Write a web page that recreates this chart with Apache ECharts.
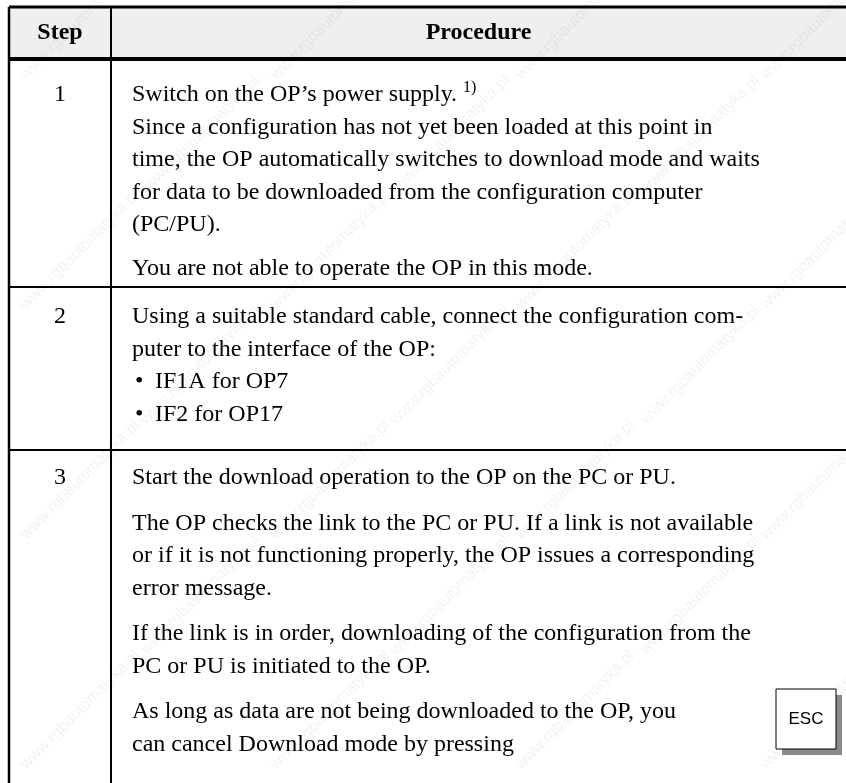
<!DOCTYPE html>
<html>
<head>
<meta charset="utf-8">
<script src="https://cdn.jsdelivr.net/npm/echarts@6/dist/echarts.min.js"></script>
<style>
html,body{margin:0;padding:0;background:#fff;}
#main{width:846px;height:783px;}
</style>
</head>
<body>
<div id="main"></div>
<script>
// ---- content ----
var headers = ['Step', 'Procedure'];
var steps = ['1', '2', '3'];
// each step: list of paragraphs, each paragraph a list of lines
var step1 = [
  ['Switch on the OP\u2019s power supply.',
   'Since a configuration has not yet been loaded at this point in',
   'time, the OP automatically switches to download mode and waits',
   'for data to be downloaded from the configuration computer',
   '(PC/PU).'],
  ['You are not able to operate the OP in this mode.']
];
var step1Footnote = '1)';
var step2 = [
  ['Using a suitable standard cable, connect the configuration com-',
   'puter to the interface of the OP:']
];
var step2Bullets = ['IF1A for OP7', 'IF2 for OP17'];
var step3 = [
  ['Start the download operation to the OP on the PC or PU.'],
  ['The OP checks the link to the PC or PU. If a link is not available',
   'or if it is not functioning properly, the OP issues a corresponding',
   'error message.'],
  ['If the link is in order, downloading of the configuration from the',
   'PC or PU is initiated to the OP.'],
  ['As long as data are not being downloaded to the OP, you',
   'can cancel Download mode by pressing']
];
var keyLabel = 'ESC';
var watermark = 'www.rgbautomatyka.pl';

// ---- layout ----
var FONT = '24px "Liberation Serif", "Times New Roman", serif';
var FONT_B = 'bold 24px "Liberation Serif", "Times New Roman", serif';
var LH = 32.5;
var xLeft = 9, xCol = 111, xRight = 846;
var yTop = 7, yHead = 59;
var textX = 132;

var chart = echarts.init(document.getElementById('main'), null, {renderer: 'canvas'});
var els = [];

// watermarks
var wmRows = [
  {y: 20, xs: [80, 330, 575, 820]},
  {y: 135, xs: [200, 450, 700]},
  {y: 250, xs: [80, 330, 575, 820]},
  {y: 365, xs: [200, 450, 700]},
  {y: 480, xs: [80, 330, 575, 820]},
  {y: 595, xs: [200, 450, 700]},
  {y: 710, xs: [80, 330, 575, 820]}
];
wmRows.forEach(function (r) {
  r.xs.forEach(function (x) {
    els.push({type: 'text', x: x, y: r.y, rotation: Math.PI / 4, z: 1,
      style: {text: watermark, font: '16px "Liberation Sans", Arial, sans-serif',
        fill: 'rgba(140,110,100,0.09)', align: 'center', verticalAlign: 'middle'}});
  });
});

// header background
els.push({type: 'rect', z: 0, shape: {x: xLeft, y: yTop, width: xRight - xLeft, height: yHead - yTop},
  style: {fill: '#efefef'}});

function line(x1, y1, x2, y2, w) {
  els.push({type: 'line', z: 5, shape: {x1: x1, y1: y1, x2: x2, y2: y2},
    style: {stroke: '#000', lineWidth: w}});
}
function txt(x, y, s, font, align) {
  els.push({type: 'text', z: 6, x: x, y: y,
    style: {text: s, font: font, fill: '#000', align: align || 'left', verticalAlign: 'middle'}});
}

// header text
txt((xLeft + xCol) / 2, 33, headers[0], FONT_B, 'center');
txt((xCol + xRight) / 2, 33, headers[1], FONT_B, 'center');

var ctx = document.createElement('canvas').getContext('2d');
ctx.font = FONT;

// row 1
var y = 95;
txt((xLeft + xCol) / 2, y, steps[0], FONT, 'center');
step1.forEach(function (para, pi) {
  if (pi > 0) y += 11;
  para.forEach(function (l, li) {
    txt(textX, y, l, FONT);
    if (pi === 0 && li === 0) {
      var w = ctx.measureText(l + ' ').width;
      txt(textX + w, y - 7, step1Footnote, '16px "Liberation Serif", "Times New Roman", serif');
    }
    y += LH;
  });
});
var yRow2 = 287;
// row 2
y = 317;
txt((xLeft + xCol) / 2, y, steps[1], FONT, 'center');
step2.forEach(function (para) {
  para.forEach(function (l) { txt(textX, y, l, FONT); y += LH; });
});
step2Bullets.forEach(function (b) {
  txt(textX + 3, y, '\u2022', FONT);
  txt(textX + 23, y, b, FONT);
  y += LH;
});
var yRow3 = 450;
// row 3
y = 478;
txt((xLeft + xCol) / 2, y, steps[2], FONT, 'center');
step3.forEach(function (para, pi) {
  if (pi > 0) y += 13;
  para.forEach(function (l) { txt(textX, y, l, FONT); y += LH; });
});

// ESC key
var kx = 776, ky = 689, kw = 60, kh = 60;
els.push({type: 'rect', z: 6, shape: {x: kx + 6, y: ky + 6, width: kw, height: kh}, style: {fill: '#8a8a8a'}});
els.push({type: 'rect', z: 7, shape: {x: kx, y: ky, width: kw, height: kh}, style: {fill: '#fff', stroke: '#000', lineWidth: 1}});
els.push({type: 'text', z: 8, x: kx + kw / 2, y: ky + kh / 2,
  style: {text: keyLabel, font: '17px "Liberation Sans", Arial, sans-serif', fill: '#000', align: 'center', verticalAlign: 'middle'}});

// grid lines
line(xLeft, yTop, xRight, yTop, 3);
line(xLeft, yHead, xRight, yHead, 4);
line(xLeft, yTop, xLeft, 783, 2.5);
line(xCol, yTop, xCol, 783, 2);
line(xLeft, yRow2, xRight, yRow2, 2);
line(xLeft, yRow3, xRight, yRow3, 2);

chart.setOption({animation: false, graphic: {elements: els}});
</script>
</body>
</html>
